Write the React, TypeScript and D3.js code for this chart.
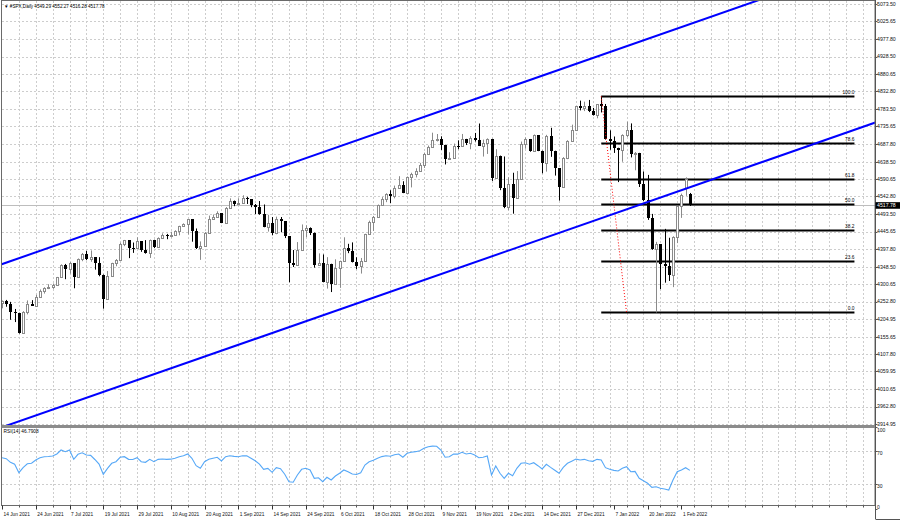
import React from 'react';
import * as d3 from 'd3';

const symbolTitle = '\u25BC #SPX,Daily  4549.29 4552.27 4516.28 4517.78';
const rsiTitle = 'RSI(14) 46.7908';

const opens = [
  4247.4, 4255.2, 4246.6, 4223.7, 4221.9, 4166.5, 4224.8, 4246.4, 4241.8, 4266.5,
  4280.7, 4290.6, 4291.8, 4297.5, 4319.9, 4352.3, 4343.5, 4358.1, 4320.8, 4369.6,
  4384.6, 4369.2, 4374.3, 4360.0, 4327.2, 4258.5, 4323.1, 4358.7, 4367.5, 4411.8,
  4422.3, 4401.5, 4400.6, 4419.2, 4395.3, 4387.2, 4423.2, 4402.7, 4429.1, 4436.5,
  4432.4, 4436.8, 4447.7, 4460.8, 4468.0, 4479.7, 4448.1, 4400.3, 4405.8, 4441.7,
  4479.5, 4486.2, 4496.2, 4470.0, 4509.4, 4528.8, 4522.7, 4524.1, 4537.0, 4535.4,
  4520.0, 4514.1, 4493.3, 4458.6, 4468.7, 4443.1, 4480.7, 4473.8, 4433.0, 4357.7,
  4354.2, 4395.6, 4449.0, 4455.5, 4443.1, 4352.6, 4359.5, 4307.5, 4357.0, 4300.5,
  4345.7, 4363.6, 4399.8, 4391.3, 4361.2, 4350.7, 4363.8, 4438.3, 4471.4, 4486.5,
  4519.6, 4536.2, 4549.8, 4544.9, 4566.5, 4574.8, 4551.7, 4596.4, 4605.4, 4613.7,
  4630.7, 4660.6, 4680.1, 4697.5, 4701.7, 4685.3, 4646.7, 4649.3, 4682.9, 4682.8,
  4700.9, 4688.7, 4704.5, 4698.0, 4682.9, 4690.7, 4701.5, 4594.6, 4655.3, 4567.0,
  4513.0, 4577.1, 4538.4, 4591.7, 4686.8, 4701.2, 4667.5, 4712.0, 4669.0, 4634.1,
  4709.9, 4668.7, 4620.6, 4568.0, 4649.2, 4696.6, 4725.8, 4791.2, 4786.4, 4793.1,
  4778.7, 4766.2, 4796.6, 4793.5, 4700.6, 4696.1, 4677.0, 4670.3, 4713.1, 4726.4,
  4659.0, 4662.9, 4577.1, 4532.8, 4482.7, 4397.9, 4410.1, 4356.5, 4349.9, 4326.5,
  4431.9, 4515.6, 4566.4, 4549.29,
];
const highs = [
  4255.6, 4257.2, 4251.9, 4232.3, 4221.9, 4226.2, 4255.8, 4256.6, 4271.3, 4286.1,
  4292.1, 4300.5, 4302.4, 4320.7, 4355.4, 4356.5, 4361.9, 4358.1, 4371.6, 4386.7,
  4392.4, 4393.7, 4374.3, 4375.1, 4327.2, 4336.8, 4359.7, 4369.9, 4415.2, 4422.7,
  4422.3, 4415.5, 4430.0, 4419.2, 4422.2, 4423.8, 4423.2, 4429.8, 4440.8, 4439.4,
  4445.2, 4449.4, 4461.8, 4468.4, 4480.3, 4479.7, 4454.3, 4418.6, 4444.4, 4489.9,
  4492.8, 4501.7, 4496.2, 4513.3, 4537.4, 4531.4, 4537.1, 4545.9, 4541.5, 4535.4,
  4521.8, 4529.9, 4520.5, 4492.0, 4485.7, 4486.9, 4485.9, 4473.8, 4433.0, 4394.9,
  4416.8, 4465.4, 4463.1, 4457.3, 4443.1, 4385.6, 4382.6, 4375.2, 4357.0, 4369.2,
  4365.6, 4430.0, 4412.0, 4415.9, 4374.9, 4372.9, 4439.7, 4475.8, 4488.8, 4520.4,
  4540.9, 4551.4, 4559.7, 4572.6, 4598.5, 4584.6, 4597.6, 4608.1, 4620.3, 4635.2,
  4663.5, 4683.0, 4718.5, 4714.9, 4708.5, 4685.3, 4664.6, 4688.5, 4697.4, 4715.0,
  4701.5, 4708.8, 4717.8, 4743.8, 4699.4, 4702.9, 4701.5, 4673.0, 4655.3, 4652.9,
  4595.5, 4608.0, 4612.6, 4694.0, 4705.1, 4701.2, 4713.6, 4712.0, 4669.0, 4712.6,
  4732.0, 4668.7, 4620.6, 4651.1, 4697.7, 4740.7, 4791.5, 4807.0, 4804.1, 4808.9,
  4786.8, 4796.6, 4818.6, 4797.7, 4725.0, 4708.0, 4677.0, 4714.1, 4748.8, 4744.1,
  4665.1, 4662.9, 4611.6, 4602.1, 4494.5, 4417.4, 4411.0, 4453.2, 4428.7, 4432.7,
  4516.9, 4550.5, 4595.3, 4552.27,
];
const lows = [
  4234.1, 4238.4, 4202.5, 4196.1, 4164.4, 4166.5, 4217.3, 4241.4, 4241.8, 4266.5,
  4274.7, 4287.0, 4287.8, 4297.5, 4319.9, 4314.4, 4329.8, 4289.4, 4320.8, 4364.0,
  4366.9, 4362.4, 4340.7, 4322.5, 4233.1, 4258.5, 4323.1, 4350.1, 4367.5, 4405.5,
  4372.5, 4387.0, 4400.6, 4389.9, 4384.8, 4373.0, 4400.2, 4402.7, 4429.1, 4424.7,
  4430.0, 4436.4, 4435.5, 4460.1, 4437.7, 4417.8, 4397.6, 4367.7, 4405.8, 4441.7,
  4479.5, 4485.7, 4469.0, 4470.0, 4509.4, 4515.8, 4522.0, 4524.1, 4521.9, 4513.0,
  4494.0, 4492.1, 4457.7, 4445.7, 4435.5, 4438.4, 4443.8, 4427.8, 4305.9, 4348.0,
  4354.2, 4395.6, 4430.3, 4436.2, 4346.3, 4352.6, 4306.2, 4288.5, 4278.9, 4300.5,
  4290.5, 4363.6, 4386.2, 4360.6, 4342.1, 4329.9, 4363.8, 4438.3, 4447.5, 4486.5,
  4519.6, 4526.9, 4524.0, 4537.4, 4566.5, 4551.7, 4551.7, 4567.6, 4595.1, 4613.3,
  4621.2, 4660.6, 4680.1, 4694.4, 4670.9, 4630.9, 4646.7, 4649.3, 4672.9, 4679.4,
  4684.4, 4672.8, 4694.2, 4682.2, 4652.7, 4659.9, 4585.4, 4594.6, 4560.0, 4510.3,
  4504.7, 4495.1, 4538.4, 4591.7, 4674.5, 4666.0, 4667.5, 4667.6, 4606.5, 4611.2,
  4651.9, 4600.2, 4531.1, 4568.0, 4645.5, 4696.6, 4725.8, 4780.0, 4778.1, 4775.3,
  4765.8, 4758.2, 4774.3, 4699.4, 4671.3, 4662.7, 4582.2, 4638.3, 4706.7, 4650.3,
  4614.8, 4568.7, 4530.2, 4478.0, 4395.3, 4222.6, 4287.1, 4304.8, 4309.5, 4292.5,
  4414.0, 4483.5, 4544.3, 4516.28,
];
const closes = [
  4255.2, 4246.6, 4223.7, 4221.9, 4166.5, 4224.8, 4246.4, 4241.8, 4266.5, 4280.7,
  4290.6, 4291.8, 4297.5, 4319.9, 4352.3, 4343.5, 4358.1, 4320.8, 4369.6, 4384.6,
  4369.2, 4374.3, 4360.0, 4327.2, 4258.5, 4323.1, 4358.7, 4367.5, 4411.8, 4422.3,
  4401.5, 4400.6, 4419.2, 4395.3, 4387.2, 4423.2, 4402.7, 4429.1, 4436.5, 4432.4,
  4436.8, 4447.7, 4460.8, 4468.0, 4479.7, 4448.1, 4400.3, 4405.8, 4441.7, 4479.5,
  4486.2, 4496.2, 4470.0, 4509.4, 4528.8, 4522.7, 4524.1, 4537.0, 4535.4, 4520.0,
  4514.1, 4493.3, 4458.6, 4468.7, 4443.1, 4480.7, 4473.8, 4433.0, 4357.7, 4354.2,
  4395.6, 4449.0, 4455.5, 4443.1, 4352.6, 4359.5, 4307.5, 4357.0, 4300.5, 4345.7,
  4363.6, 4399.8, 4391.3, 4361.2, 4350.7, 4363.8, 4438.3, 4471.4, 4486.5, 4519.6,
  4536.2, 4549.8, 4544.9, 4566.5, 4574.8, 4551.7, 4596.4, 4605.4, 4613.7, 4630.7,
  4660.6, 4680.1, 4697.5, 4701.7, 4685.3, 4646.7, 4649.3, 4682.9, 4682.8, 4700.9,
  4688.7, 4704.5, 4698.0, 4682.9, 4690.7, 4701.5, 4594.6, 4655.3, 4567.0, 4513.0,
  4577.1, 4538.4, 4591.7, 4686.8, 4701.2, 4667.5, 4712.0, 4669.0, 4634.1, 4709.9,
  4668.7, 4620.6, 4568.0, 4649.2, 4696.6, 4725.8, 4791.2, 4786.4, 4793.1, 4778.7,
  4766.2, 4796.6, 4793.5, 4700.6, 4696.1, 4677.0, 4670.3, 4713.1, 4726.4, 4659.0,
  4662.9, 4577.1, 4532.8, 4482.7, 4397.9, 4410.1, 4356.5, 4349.9, 4326.5, 4431.9,
  4515.6, 4546.5, 4589.4, 4517.78,
];

const rsiValues = [
  62.2, 61.0, 56.6, 54.2, 44.0, 50.1, 54.8, 55.4, 59.4, 62.2,
  63.4, 63.6, 64.2, 66.7, 71.5, 69.5, 71.5, 60.2, 66.3, 68.2,
  65.5, 65.0, 60.0, 54.4, 42.1, 49.3, 55.4, 57.3, 62.7, 63.4,
  60.2, 60.0, 62.2, 57.3, 56.6, 60.2, 57.3, 60.2, 60.6, 60.2,
  60.4, 61.5, 63.4, 64.6, 66.7, 61.5, 52.5, 49.3, 57.3, 60.2,
  61.5, 62.7, 58.2, 63.4, 64.6, 63.8, 63.4, 64.6, 64.4, 61.5,
  58.5, 54.5, 48.1, 49.2, 44.5, 50.1, 48.8, 42.1, 33.1, 32.4,
  41.2, 48.1, 49.3, 47.3, 37.2, 37.8, 33.1, 38.4, 35.2, 40.0,
  43.3, 47.3, 45.2, 42.4, 41.8, 44.0, 53.3, 57.3, 59.0, 61.5,
  63.5, 64.5, 64.0, 65.8, 66.7, 62.7, 67.5, 68.7, 69.5, 70.7,
  73.6, 75.5, 76.2, 76.0, 71.5, 62.7, 63.4, 66.7, 66.5, 68.7,
  66.7, 67.5, 65.5, 62.2, 62.7, 64.2, 41.2, 52.1, 43.3, 37.2,
  43.3, 40.4, 49.3, 55.4, 56.1, 54.2, 56.1, 52.5, 48.5, 54.2,
  50.5, 47.0, 43.3, 50.5, 55.4, 58.0, 60.5, 59.4, 60.2, 58.5,
  57.8, 60.2, 59.4, 50.1, 48.1, 46.8, 46.1, 49.3, 51.3, 45.2,
  45.6, 37.2, 34.3, 31.2, 26.3, 27.0, 25.1, 24.2, 23.0, 35.2,
  45.2, 47.3, 50.1, 46.79,
];

const priceTicks = [
  5073.5, 5025.65, 4977.8, 4928.5, 4880.65, 4832.8, 4783.5, 4735.65, 4687.8,
  4638.5, 4590.65, 4542.8, 4493.5, 4445.65, 4397.8, 4348.5, 4300.65, 4252.8,
  4204.95, 4155.65, 4107.8, 4059.95, 4010.65, 3962.8, 3914.95,
];
const rsiTicks = [100, 70, 30, 0];
const rsiGridLevels = [70, 30];

const timeLabelBars = [0, 8, 16, 24, 32, 40, 48, 56, 64, 72, 80, 88, 96, 104, 112, 120, 128, 136, 145, 153, 161];
const timeLabels = [
  '14 Jun 2021', '24 Jun 2021', '7 Jul 2021', '19 Jul 2021', '29 Jul 2021', '10 Aug 2021',
  '20 Aug 2021', '1 Sep 2021', '14 Sep 2021', '24 Sep 2021', '6 Oct 2021', '18 Oct 2021',
  '28 Oct 2021', '9 Nov 2021', '19 Nov 2021', '2 Dec 2021', '14 Dec 2021', '27 Dec 2021',
  '7 Jan 2022', '20 Jan 2022', '1 Feb 2022',
];

const fibLevels = [100, 78.6, 61.8, 50, 38.2, 23.6, 0];
const fibLabels = ['100.0', '78.6', '61.8', '50.0', '38.2', '23.6', '0.0'];
const fibHigh = 4818.62;
const fibLow = 4222.62;
const fibHighBar = 142;
const fibLowBar = 148;
const fibEndBar = 202;

const upperChannel = [[0, 4356], [163, 5018]];
const lowerChannel = [[0, 3906], [163, 4568]];
const lastPrice = 4517.78;

const W = 900;
const H = 522;
const LEFT = 2;
const RIGHT = 875;
const MAIN_TOP = 1;
const MAIN_BOTTOM = 425;
const RSI_TOP = 428;
const RSI_BOTTOM = 505.5;
const FONT = '"Liberation Sans", Arial, sans-serif';

export default function App() {
  const x = d3.scaleLinear().domain([0, 161]).range([2, 681.42]);
  const y = d3.scaleLinear().domain([3914.95, 5073.5]).range([424, 4]);
  const yR = d3.scaleLinear().domain([0, 100]).range([509, 426.5]);

  const maxBar = x.invert(RIGHT);
  const gridBars = d3.range(4, maxBar, 4);

  const chanLine = (pts: number[][]) => {
    const [[b0, p0], [b1, p1]] = pts;
    const slope = (p1 - p0) / (b1 - b0);
    const bs = -2;
    const be = maxBar + 2;
    return { x1: x(bs), y1: y(p0 + slope * (bs - b0)), x2: x(be), y2: y(p0 + slope * (be - b0)) };
  };
  const up = chanLine(upperChannel);
  const lo = chanLine(lowerChannel);

  const rsiLine = d3
    .line<number>()
    .x((_, i) => x(i))
    .y((d) => yR(d));

  const fibPrice = (lvl: number) => fibLow + ((fibHigh - fibLow) * lvl) / 100;

  const gridColor = '#cdcdcd';
  const dash = '2,2';

  return (
    <svg
      width={W}
      height={H}
      viewBox={`0 0 ${W} ${H}`}
      style={{ position: 'absolute', left: 0, top: 0, background: '#fff' }}
      fontFamily={FONT}
    >
      <defs>
        <clipPath id="mainClip">
          <rect x={LEFT} y={MAIN_TOP} width={RIGHT - LEFT} height={MAIN_BOTTOM - MAIN_TOP} />
        </clipPath>
        <clipPath id="rsiClip">
          <rect x={LEFT} y={RSI_TOP} width={RIGHT - LEFT} height={RSI_BOTTOM - RSI_TOP} />
        </clipPath>
      </defs>
      <rect x={0} y={0} width={W} height={H} fill="#fff" />

      {/* grid */}
      <g stroke={gridColor} strokeDasharray={dash} strokeWidth={1}>
        {priceTicks.map((p) => (
          <line key={'h' + p} x1={LEFT} x2={RIGHT} y1={Math.round(y(p)) + 0.5} y2={Math.round(y(p)) + 0.5} />
        ))}
        {gridBars.map((b) => (
          <line key={'v' + b} x1={Math.round(x(b)) + 0.5} x2={Math.round(x(b)) + 0.5} y1={MAIN_TOP} y2={MAIN_BOTTOM} />
        ))}
        {rsiGridLevels.map((v) => (
          <line key={'rh' + v} x1={LEFT} x2={RIGHT} y1={Math.round(yR(v)) + 0.5} y2={Math.round(yR(v)) + 0.5} />
        ))}
        {gridBars.map((b) => (
          <line key={'rv' + b} x1={Math.round(x(b)) + 0.5} x2={Math.round(x(b)) + 0.5} y1={RSI_TOP} y2={RSI_BOTTOM} />
        ))}
      </g>

      <g clipPath="url(#mainClip)">
        <line x1={LEFT} x2={RIGHT} y1={Math.round(y(lastPrice)) + 0.5} y2={Math.round(y(lastPrice)) + 0.5} stroke="#bdbdbd" strokeWidth={1} />

        {fibLevels.map((lvl) => {
          const yy = Math.round(y(fibPrice(lvl))) + 0.5;
          return <line key={'f' + lvl} x1={x(fibHighBar)} x2={x(fibEndBar)} y1={yy} y2={yy} stroke="#000" strokeWidth={2} />;
        })}

        {closes.map((c, i) => {
          const o = opens[i];
          const hi = Math.max(highs[i], o, c);
          const lw = Math.min(lows[i], o, c);
          const px = Math.round(x(i));
          const bull = c >= o;
          const top = Math.round(y(Math.max(o, c)));
          const bot = Math.round(y(Math.min(o, c)));
          const col = bull ? '#8a8a8a' : '#000';
          return (
            <g key={'c' + i}>
              <line x1={px + 0.5} x2={px + 0.5} y1={y(hi)} y2={y(lw)} stroke={col} strokeWidth={1} />
              {bull ? (
                <rect x={px - 0.5} y={top + 0.5} width={2} height={Math.max(bot - top, 1)} fill="#fff" stroke={col} strokeWidth={1} />
              ) : (
                <rect x={px - 1} y={top} width={3} height={Math.max(bot - top, 1)} fill="#000" />
              )}
            </g>
          );
        })}

        <line
          x1={x(fibHighBar)}
          y1={y(fibHigh)}
          x2={x(fibLowBar)}
          y2={y(fibLow)}
          stroke="#ff0000"
          strokeWidth={1}
          strokeDasharray="1,2"
        />

        <line {...up} stroke="#0000ff" strokeWidth={2} />
        <line {...lo} stroke="#0000ff" strokeWidth={2} />
      </g>

      {fibLevels.map((lvl, k) => (
        <text key={'fl' + lvl} x={x(fibEndBar)} y={y(fibPrice(lvl)) - 2} fontSize={4.8} textAnchor="end" fill="#000">
          {fibLabels[k]}
        </text>
      ))}

      <g clipPath="url(#rsiClip)">
        <path d={rsiLine(rsiValues) || ''} fill="none" stroke="#56a8f7" strokeWidth={1.1} />
      </g>

      <rect x={LEFT - 0.5} y={0.5} width={RIGHT - LEFT + 0.5} height={RSI_BOTTOM - 0.5} fill="none" stroke="#6a6a6a" strokeWidth={1} />
      <rect x={LEFT - 0.5} y={MAIN_BOTTOM} width={RIGHT - LEFT + 1} height={RSI_TOP - MAIN_BOTTOM} fill="#8c8c8c" />
      <line x1={RIGHT + 0.5} x2={RIGHT + 0.5} y1={0} y2={519} stroke="#555" strokeWidth={1} />
      <line x1={RIGHT + 0.5} x2={W} y1={519.5} y2={519.5} stroke="#555" strokeWidth={1} />

      <text x={4} y={7.5} fontSize={4.6} fill="#000">{symbolTitle}</text>
      <text x={3.5} y={433} fontSize={4.8} fill="#000">{rsiTitle}</text>

      {priceTicks.map((p) => (
        <g key={'pt' + p}>
          <line x1={RIGHT} x2={RIGHT + 2.5} y1={Math.round(y(p)) + 0.5} y2={Math.round(y(p)) + 0.5} stroke="#555" />
          <text x={RIGHT + 2} y={y(p)} dy="0.35em" fontSize={5.2} fill="#111">
            {p.toFixed(2)}
          </text>
        </g>
      ))}
      <rect x={RIGHT + 0.5} y={y(lastPrice) - 3.3} width={W - RIGHT} height={6.6} fill="#000" />
      <text x={RIGHT + 2} y={y(lastPrice)} dy="0.35em" fontSize={5.2} fill="#fff">
        {lastPrice.toFixed(2)}
      </text>

      {rsiTicks.map((v) => (
        <g key={'rt' + v}>
          <line x1={RIGHT} x2={RIGHT + 2.5} y1={Math.round(yR(v)) + 0.5} y2={Math.round(yR(v)) + 0.5} stroke="#555" />
          <text x={RIGHT + 2} y={Math.min(Math.max(yR(v) + 1.8, 430.5), 507.5)} dy="0.35em" fontSize={5} fill="#111">
            {v}
          </text>
        </g>
      ))}

      {gridBars.map((b) => (
        <line key={'tt' + b} x1={Math.round(x(b)) + 0.5} x2={Math.round(x(b)) + 0.5} y1={RSI_BOTTOM} y2={RSI_BOTTOM + 2} stroke="#555" />
      ))}
      {timeLabelBars.map((b, k) => (
        <g key={'tl' + b}>
          <line x1={Math.round(x(b)) + 0.5} x2={Math.round(x(b)) + 0.5} y1={RSI_BOTTOM} y2={RSI_BOTTOM + 4} stroke="#333" />
          <text x={x(b) + 1.5} y={516} fontSize={4.8} fill="#111">
            {timeLabels[k]}
          </text>
        </g>
      ))}
    </svg>
  );
}
